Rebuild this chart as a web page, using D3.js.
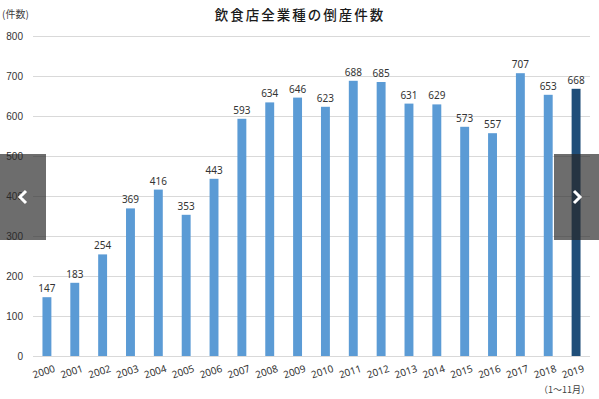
<!DOCTYPE html>
<html>
<head>
<meta charset="utf-8">
<script src="https://cdn.jsdelivr.net/npm/d3@7"></script>
<style>
  body { margin: 0; background: #fff; }
  svg { display: block; font-family: "Noto Sans", "Noto Sans CJK JP", sans-serif; }
</style>
</head>
<body>
<svg id="chart"></svg>
<script>
// chart data
const years = ["2000","2001","2002","2003","2004","2005","2006","2007","2008","2009",
  "2010","2011","2012","2013","2014","2015","2016","2017","2018","2019"];
const counts = [147,183,254,369,416,353,443,593,634,646,623,688,685,631,629,573,557,707,653,668];
const yTicks = [0,100,200,300,400,500,600,700,800];
const title = "飲食店全業種の倒産件数";
const yUnit = "(件数)";
const lastNote = "（1～11月）";

const w = 599, h = 399;
const plotLeft = 33, plotRight = 590, plotTop = 36, plotBottom = 356;

const svg = d3.select("#chart").attr("width", w).attr("height", h);

let x = d3.scaleBand().domain(years).range([plotLeft, plotRight]).paddingInner(0.68).paddingOuter(0.34);
let y = d3.scaleLinear().domain([0, 800]).range([plotBottom, plotTop]);

// grid
svg.append("g").selectAll("line").data(yTicks).enter().append("line")
  .attr("x1", plotLeft).attr("x2", plotRight)
  .attr("y1", d => y(d)).attr("y2", d => y(d))
  .attr("stroke", "#d9d9d9").attr("stroke-width", 1).attr("shape-rendering", "crispEdges");

// y axis labels
let yAxis = d3.axisLeft(y).tickValues(yTicks).tickSize(0).tickPadding(8);
let yg = svg.append("g").attr("transform", "translate(" + (plotLeft - 2) + ",0)").call(yAxis);
yg.select(".domain").remove();
yg.selectAll("text").attr("fill", "#333").attr("font-size", 10).attr("font-weight", 500);

// bars
svg.append("g").selectAll("rect").data(years).enter().append("rect")
  .attr("x", d => x(d))
  .attr("width", x.bandwidth())
  .attr("y", (d, i) => y(counts[i]))
  .attr("height", (d, i) => plotBottom - y(counts[i]))
  .attr("fill", (d, i) => i === years.length - 1 ? "#1f4e79" : "#5b9bd5");

// value labels
svg.append("g").selectAll("text").data(years).enter().append("text")
  .attr("x", d => x(d) + x.bandwidth() / 2)
  .attr("y", (d, i) => y(counts[i]) - 5)
  .attr("text-anchor", "middle")
  .attr("font-size", 10)
  .attr("fill", "#333")
  .text((d, i) => counts[i]);

// x labels, slanted
svg.append("g").selectAll("text").data(years).enter().append("text")
  .attr("transform", d => "translate(" + (x(d) + x.bandwidth() / 2 - 2) + ",375) rotate(-18)")
  .attr("text-anchor", "middle")
  .attr("font-size", 10)
  .attr("fill", "#333")
  .text(d => d);

svg.append("text").attr("x", 300).attr("y", 20).attr("text-anchor", "middle")
  .attr("font-size", 13.5).attr("letter-spacing", 2).attr("fill", "#1a1a1a")
  .attr("font-family", "Noto Sans CJK JP").attr("font-weight", 500)
  .text(title);

svg.append("text").attr("x", 2).attr("y", 18).attr("font-size", 10).attr("fill", "#404040")
  .attr("font-family", "Noto Sans CJK JP").text(yUnit);

svg.append("text").attr("x", 590).attr("y", 393).attr("text-anchor", "end")
  .attr("font-size", 9).attr("fill", "#404040")
  .attr("font-family", "Noto Sans CJK JP").text(lastNote);

// carousel arrow overlays
function navBox(bx, dir) {
  let g = svg.append("g");
  g.append("rect").attr("x", bx).attr("y", 154).attr("width", 46).attr("height", 86)
    .attr("fill", "rgba(40,40,40,0.68)");
  let cx = bx + 23, cy = 197;
  g.append("path")
    .attr("d", dir < 0
      ? "M" + (cx + 3) + "," + (cy - 6) + " L" + (cx - 3) + "," + cy + " L" + (cx + 3) + "," + (cy + 6)
      : "M" + (cx - 3) + "," + (cy - 6) + " L" + (cx + 3) + "," + cy + " L" + (cx - 3) + "," + (cy + 6))
    .attr("fill", "none").attr("stroke", "#fff").attr("stroke-width", 3);
}
navBox(0, -1);
navBox(554, 1);
</script>
</body>
</html>
